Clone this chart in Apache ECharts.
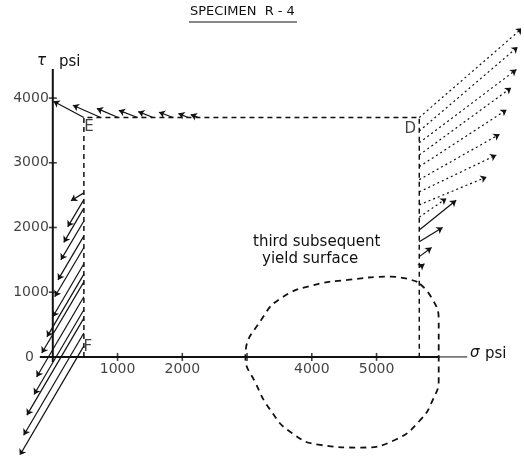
<!DOCTYPE html>
<html><head><meta charset="utf-8">
<script src="https://cdn.jsdelivr.net/npm/echarts/dist/echarts.min.js"></script>
<style>html,body{margin:0;padding:0;background:#fff}#c{width:524px;height:456px}</style>
</head><body><div id="c"></div>
<script>
// ---- data (psi) ----
const titleText = 'SPECIMEN  R - 4';
const xTickValues = [1000, 2000, 3000, 4000, 5000];
const xTickLabels = ['1000', '2000', '', '4000', '5000'];
const yTickValues = [0, 1000, 2000, 3000, 4000];
const yTickLabels = ['0', '1000', '2000', '3000', '4000'];
const pointF = [480, 0];
const pointE = [480, 3700];
const pointD = [5660, 3700];
const pointDaxis = [5660, 0];
const loadingPath = [pointF, pointE, pointD, pointDaxis];
const yieldSurface = [
  [5630, 1160], [5220, 1240], [4550, 1190], [4030, 1110], [3560, 930], [3250, 620],
  [2975, 0], [3130, -400], [3360, -820], [3670, -1160], [4130, -1360], [4750, -1400],
  [5290, -1280], [5680, -970], [5870, -660], [5960, -350], [5960, 0], [5960, 570],
  [5840, 930], [5630, 1160]
];
// arrows along F-E (tail at sigma=480)
const feTailTau = [2535, 2430, 2300, 2100, 1870, 1690, 1440, 1280, 1160, 930, 730, 600, 370, 170];
const feDSigma = [-200, -250, -310, -355, -400, -450, -480, -570, -650, -730, -770, -880, -930, -990];
const feDTau = [-120, -420, -530, -600, -680, -760, -820, -970, -1100, -1240, -1310, -1500, -1580, -1690];
// arrows along E-D (tail at tau=3700)
const edTailSigma = [480, 740, 1010, 1310, 1550, 1860, 2090, 2250];
const edDSigma = [-470, -430, -330, -290, -230, -220, -150, -120];
const edDTau = [250, 190, 140, 110, 90, 80, 60, 45];
// arrows along D-down (tail at sigma=5660)
const dTailTau = [3700, 3490, 3310, 3120, 2940, 2740, 2550, 2350, 2160, 1960, 1780, 1550, 1380];
const dDSigma = [1590, 1520, 1500, 1420, 1350, 1240, 1190, 1040, 420, 570, 360, 190, 80];
const dDTau = [1380, 1300, 1130, 1040, 880, 700, 570, 430, 290, 460, 220, 140, 60];
const dDotted = [true, true, true, true, true, true, true, true, true, false, false, false, false];
// axis extents
const sigmaAxis = [[-200, 0], [5960, 0]];
const sigmaAxisTail = [[5960, 0], [6400, 0]];
const tauAxis = [[0, -80], [0, 4450]];

const INK = '#111';
const FONT = 'DejaVu Sans';

function arrowsFrom(tails, ds, dt) {
  return tails.map((t, i) => ({ coords: [[t[0], t[1]], [t[0] + ds[i], t[1] + dt[i]]] }));
}
const feArrows = arrowsFrom(feTailTau.map(t => [pointF[0], t]), feDSigma, feDTau);
const edArrows = arrowsFrom(edTailSigma.map(s => [s, pointE[1]]), edDSigma, edDTau);
const dAll = arrowsFrom(dTailTau.map(t => [pointD[0], t]), dDSigma, dDTau);
const dDottedArrows = dAll.filter((a, i) => dDotted[i]);
const dSolidArrows = dAll.filter((a, i) => !dDotted[i]);

function arrowSeries(data, dotted) {
  return {
    type: 'lines', coordinateSystem: 'cartesian2d', silent: true,
    symbol: ['none', 'arrow'], symbolSize: 6,
    lineStyle: { color: INK, width: 1.2, type: dotted ? [2, 3] : 'solid', opacity: 1 },
    data: data, z: 5
  };
}

const chart = echarts.init(document.getElementById('c'), null, { renderer: 'canvas' });
chart.setOption({
  animation: false,
  backgroundColor: '#fff',
  grid: { left: 1, top: 1, width: 518, height: 453, containLabel: false },
  xAxis: { type: 'value', min: -800, max: 7200, show: false },
  yAxis: { type: 'value', min: -1500, max: 5500, show: false },
  graphic: [
    { type: 'text', left: 190, top: 5, style: { text: titleText, font: '13px ' + FONT, fill: INK } },
    { type: 'line', shape: { x1: 189, y1: 22, x2: 297, y2: 22 }, style: { stroke: INK, lineWidth: 1.2 } },
    { type: 'text', x: 37, y: 69, style: { text: 'τ', font: 'italic 15px ' + FONT, fill: INK, verticalAlign: 'bottom' } },
    { type: 'text', x: 59, y: 70, style: { text: 'psi', font: '15px ' + FONT, fill: INK, verticalAlign: 'bottom' } },
    { type: 'text', x: 470, y: 361, style: { text: 'σ', font: 'italic 15px ' + FONT, fill: INK, verticalAlign: 'bottom' } },
    { type: 'text', x: 485, y: 362, style: { text: 'psi', font: '15px ' + FONT, fill: INK, verticalAlign: 'bottom' } },
    { type: 'text', x: 253, y: 235, style: { text: 'third subsequent', font: '15px ' + FONT, fill: INK } },
    { type: 'text', x: 262, y: 252, style: { text: 'yield surface', font: '15px ' + FONT, fill: INK } }
  ],
  series: [
    { type: 'line', data: sigmaAxis, symbol: 'none', silent: true, lineStyle: { color: INK, width: 2 }, z: 4 },
    { type: 'line', data: sigmaAxisTail, symbol: 'none', silent: true, lineStyle: { color: INK, width: 1 }, z: 4 },
    { type: 'line', data: tauAxis, symbol: 'none', silent: true, lineStyle: { color: INK, width: 2 }, z: 4 },
    { type: 'line', data: loadingPath, symbol: 'none', silent: true, lineStyle: { color: INK, width: 1.5, type: [5, 4] }, z: 3 },
    { type: 'line', data: yieldSurface, symbol: 'none', smooth: 0.5, silent: true, lineStyle: { color: INK, width: 1.8, type: [6, 5] }, z: 3 },
    { type: 'scatter', data: xTickValues.map(v => [v, 0]), symbol: 'rect', symbolSize: [1.6, 8], itemStyle: { color: INK }, silent: true, z: 4 },
    { type: 'scatter', data: yTickValues.map(v => [0, v]), symbol: 'rect', symbolSize: [8, 1.6], itemStyle: { color: INK }, silent: true, z: 4 },
    { type: 'scatter', symbolSize: 0, silent: true,
      data: xTickValues.map((v, i) => ({ value: [v, 0], name: xTickLabels[i] })),
      label: { show: true, position: 'bottom', distance: 5, formatter: '{b}', color: INK, fontSize: 14, fontFamily: FONT } },
    { type: 'scatter', symbolSize: 0, silent: true,
      data: yTickValues.slice(1).map((v, i) => ({ value: [0, v], name: yTickLabels[i + 1] })),
      label: { show: true, position: 'left', distance: 4, formatter: '{b}', color: INK, fontSize: 14, fontFamily: FONT } },
    { type: 'scatter', symbolSize: 0, silent: true,
      data: [{ value: [0, yTickValues[0]], name: yTickLabels[0] }],
      label: { show: true, position: 'left', distance: 19, formatter: '{b}', color: INK, fontSize: 14, fontFamily: FONT } },
    { type: 'scatter', symbolSize: 0, silent: true,
      data: [
        { value: pointE, name: 'E', label: { offset: [5, 10] } },
        { value: pointD, name: 'D', label: { offset: [-9, 12] } },
        { value: pointF, name: 'F', label: { offset: [4, -10] } }
      ],
      label: { show: true, position: 'inside', formatter: '{b}', color: INK, fontSize: 15, fontFamily: FONT } },
    arrowSeries(feArrows, false),
    arrowSeries(edArrows, false),
    arrowSeries(dDottedArrows, true),
    arrowSeries(dSolidArrows, false)
  ]
});
</script></body></html>
